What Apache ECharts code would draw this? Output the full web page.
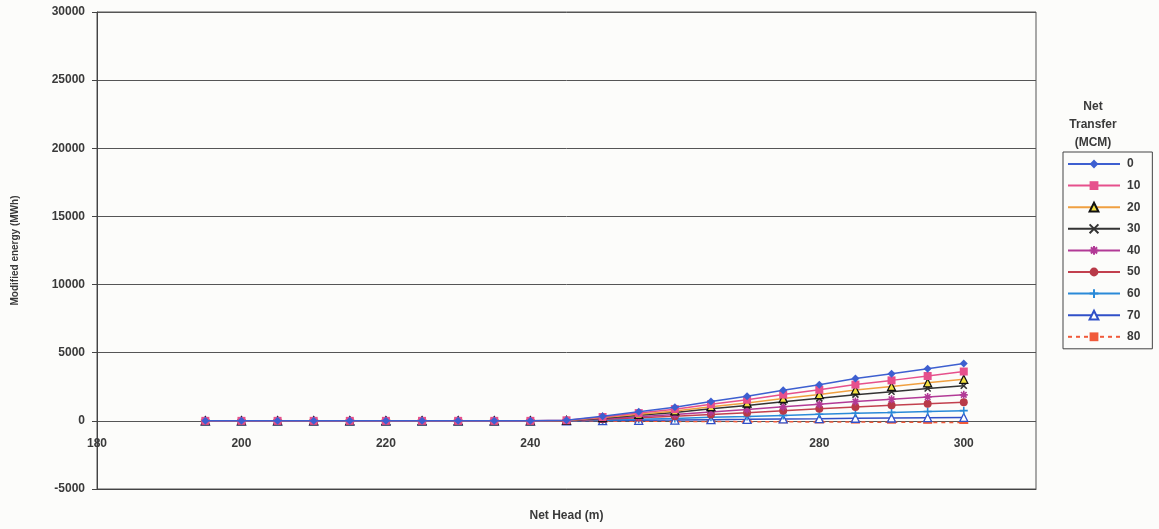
<!DOCTYPE html>
<html>
<head>
<meta charset="utf-8">
<script src="https://cdn.jsdelivr.net/npm/echarts@6/dist/echarts.min.js"></script>
<style>
  html, body { margin: 0; padding: 0; background: #fcfcfa; }
  #chart { width: 1159px; height: 529px; }
</style>
</head>
<body>
<div id="chart"></div>
<script>
// Net head (m) sampled every 5 m
const netHead = [195, 200, 205, 210, 215, 220, 225, 230, 235, 240, 245, 250, 255, 260, 265, 270, 275, 280, 285, 290, 295, 300];

// Modified energy (MWh) for each net transfer (MCM)
const zeros = [0, 0, 0, 0, 0, 0, 0, 0, 0, 0];
const transfer0  = zeros.concat([50, 330, 660, 1000, 1420, 1800, 2250, 2650, 3100, 3450, 3820, 4200]);
const transfer10 = zeros.concat([40, 280, 570, 860, 1220, 1550, 1930, 2280, 2660, 2970, 3290, 3620]);
const transfer20 = zeros.concat([35, 240, 480, 730, 1040, 1310, 1640, 1930, 2260, 2520, 2790, 3050]);
const transfer30 = zeros.concat([30, 200, 410, 620, 880, 1120, 1400, 1650, 1920, 2140, 2370, 2580]);
const transfer40 = zeros.concat([20, 150, 300, 460, 650, 830, 1030, 1220, 1420, 1580, 1750, 1910]);
const transfer50 = zeros.concat([15, 110, 220, 330, 470, 600, 740, 880, 1020, 1140, 1260, 1370]);
const transfer60 = zeros.concat([10, 60, 120, 180, 260, 320, 400, 480, 560, 620, 690, 750]);
const transfer70 = zeros.concat([0, 20, 40, 60, 90, 110, 140, 160, 190, 210, 230, 250]);
const transfer80 = zeros.concat([0, -20, -30, -40, -50, -60, -70, -80, -90, -100, -110, -120]);

const transferNames = ['0', '10', '20', '30', '40', '50', '60', '70', '80'];
const transferValues = [transfer0, transfer10, transfer20, transfer30, transfer40, transfer50, transfer60, transfer70, transfer80];

const TEXT = '#3a3a3a';
const FONT = 'Liberation Sans, Arial, sans-serif';

const crossPath = 'path://M0,0L10,10M10,0L0,10';
const plusPath = 'path://M5,0L5,10M0,5L10,5';
const starPath = 'path://M5,0L5,10M0,5L10,5M1.5,1.5L8.5,8.5M8.5,1.5L1.5,8.5';

// line colour, marker symbol, marker fill, marker border, size, dashed
const styles = [
  { line: '#3d5fd0', symbol: 'diamond',  fill: '#3d5fd0', border: '#3d5fd0', size: 8 },
  { line: '#e6508c', symbol: 'rect',     fill: '#e6508c', border: '#e6508c', size: 8 },
  { line: '#f0a040', symbol: 'triangle', fill: '#f2e040', border: '#111111', size: 8 },
  { line: '#333333', symbol: crossPath,  fill: 'none',    border: '#333333', size: 6 },
  { line: '#b23a96', symbol: starPath,   fill: 'none',    border: '#b23a96', size: 8 },
  { line: '#c2404e', symbol: 'circle',   fill: '#b83a48', border: '#b83a48', size: 8 },
  { line: '#2a8ad8', symbol: plusPath,   fill: 'none',    border: '#2a8ad8', size: 8 },
  { line: '#3050c8', symbol: 'triangle', fill: '#ffffff', border: '#3050c8', size: 8 },
  { line: '#f05a3a', symbol: 'rect',     fill: '#f05a3a', border: '#f05a3a', size: [9, 3], dashed: true }
];

const series = transferNames.map((name, i) => {
  const s = styles[i];
  return {
    name: name,
    type: 'line',
    data: netHead.map((h, j) => [h, transferValues[i][j]]),
    symbol: s.symbol,
    symbolSize: s.size,
    showAllSymbol: true,
    lineStyle: { color: s.line, width: 1.5, type: s.dashed ? [4, 4] : 'solid' },
    itemStyle: {
      color: s.fill === 'none' ? 'rgba(0,0,0,0)' : s.fill,
      borderColor: s.border,
      borderWidth: s.fill === 'none' ? 1.6 : (s.symbol === 'triangle' ? 1.3 : 0)
    },
    emphasis: { disabled: true },
    animation: false,
    z: 20 - i
  };
});

const plainNumber = v => String(v);

const chart = echarts.init(document.getElementById('chart'), null, { renderer: 'canvas' });
chart.setOption({
  backgroundColor: '#fcfcfa',
  animation: false,
  grid: {
    left: 97, right: 123, top: 12, bottom: 40,
    outerBoundsMode: 'none',
    containLabel: false,
    show: true, borderColor: '#555555', borderWidth: 1, backgroundColor: 'transparent'
  },
  xAxis: {
    type: 'value',
    min: 180, max: 310, interval: 20,
    name: 'Net Head (m)',
    nameLocation: 'middle',
    nameGap: 21,
    nameTextStyle: { color: TEXT, fontFamily: FONT, fontSize: 12, fontWeight: 'bold' },
    axisLine: { onZero: false, lineStyle: { color: '#444444', width: 1 } },
    axisTick: { show: false },
    // tick values sit just under the zero line, as the horizontal axis crosses at 0
    axisLabel: { color: TEXT, fontFamily: FONT, fontSize: 12, fontWeight: 'bold', margin: -51, showMaxLabel: false, formatter: plainNumber },
    splitLine: { show: false }
  },
  yAxis: {
    type: 'value',
    min: -5000, max: 30000, interval: 5000,
    name: 'Modified energy (MWh)',
    nameLocation: 'middle',
    nameGap: 77,
    nameTextStyle: { color: TEXT, fontFamily: FONT, fontSize: 10, fontWeight: 'bold' },
    axisLine: { show: true, lineStyle: { color: '#444444', width: 1 } },
    axisTick: { show: true, length: 5, lineStyle: { color: '#444444' } },
    axisLabel: { color: TEXT, fontFamily: FONT, fontSize: 12, fontWeight: 'bold', margin: 12, formatter: plainNumber },
    splitLine: { show: true, lineStyle: { color: '#555555', width: 1 } }
  },
  legend: {
    orient: 'vertical',
    left: 1063, top: 152,
    width: 89,
    padding: [6, 12, 6, 4],
    itemWidth: 52, itemHeight: 11, itemGap: 9.6,
    borderColor: '#444444', borderWidth: 1,
    backgroundColor: 'transparent',
    textStyle: { color: TEXT, fontFamily: FONT, fontSize: 12, fontWeight: 'bold', padding: [0, 0, 0, 2] },
    data: transferNames
  },
  graphic: [
    {
      type: 'text',
      x: 1093, y: 98,
      style: {
        text: 'Net\nTransfer\n(MCM)',
        fill: TEXT,
        font: 'bold 12px ' + FONT,
        align: 'center',
        verticalAlign: 'top',
        lineHeight: 18
      }
    }
  ],
  series: series
});
</script>
</body>
</html>
